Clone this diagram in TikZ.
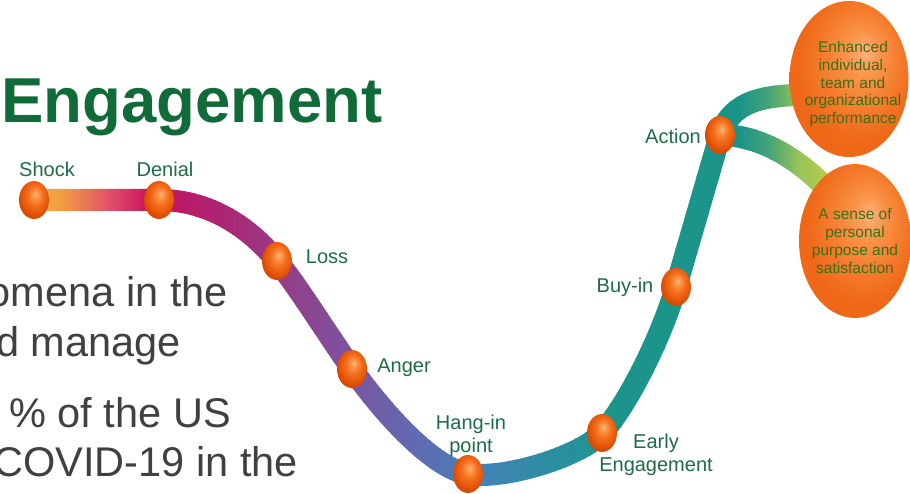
\documentclass[tikz,border=0pt]{standalone}
\usepackage{fontspec}
\setmainfont{Liberation Sans}
\usetikzlibrary{shapes.geometric,calc}

% text colours
\definecolor{titlegreen}{HTML}{116B38}
\definecolor{lblgreen}{HTML}{1D6B48}
\definecolor{orbtextgreen}{HTML}{3A7018}
\definecolor{bodygray}{HTML}{404040}

% small stage orbs
\definecolor{orbhi}{HTML}{FFC08A}
\definecolor{orblight}{HTML}{FF9A4C}
\definecolor{orbmid}{HTML}{F36E1E}
\definecolor{orbrim}{HTML}{E55608}
\definecolor{orbedge}{HTML}{D84C06}
\pgfdeclareradialshading{stageorb}{\pgfpoint{3bp}{8bp}}{%
  color(0bp)=(orbhi); color(4bp)=(orblight); color(13bp)=(orbmid);
  color(22bp)=(orbrim); color(25bp)=(orbedge); color(50bp)=(orbedge)}

% large outcome orbs
\definecolor{bighi}{HTML}{FFB27C}
\definecolor{biglight}{HTML}{FA944A}
\definecolor{bigmid}{HTML}{F47A2A}
\definecolor{bigedge}{HTML}{EE6818}
\pgfdeclareradialshading{outcomeorb}{\pgfpoint{7bp}{9bp}}{%
  color(0bp)=(bighi); color(7bp)=(biglight); color(17bp)=(bigmid);
  color(25bp)=(bigedge); color(50bp)=(bigedge)}

% colour stops along the tube (left to right)
\definecolor{tA}{HTML}{F5B33C}
\definecolor{tB}{HTML}{F2A040}
\definecolor{tC}{HTML}{E2506A}
\definecolor{tD}{HTML}{C8125C}
\definecolor{tE}{HTML}{B0226F}
\definecolor{tF}{HTML}{983A84}
\definecolor{tG}{HTML}{7A55A2}
\definecolor{tH}{HTML}{5F6CB2}
\definecolor{tI}{HTML}{4382B6}
\definecolor{tJ}{HTML}{2C8EA2}
\definecolor{tK}{HTML}{1C948C}
\definecolor{tL}{HTML}{1A9488}
\definecolor{tM}{HTML}{46A576}
\definecolor{tN}{HTML}{98C45A}
\definecolor{tO}{HTML}{C6D046}

\pgfdeclarelayer{tube}
\pgfsetlayers{tube,main}

% the whole tube: main curve plus the two branches out of Action
\newcommand\tubeline{%
  (shockball.center) -- (denialball.center)
  .. controls +(51,0) and +(-27,-33) .. (lossball.center)
  .. controls +(20,24) and +(-22,-31) .. (angerball.center)
  .. controls +(33,46) and +(-35,-6) .. (hanginball.center)
  .. controls +(35,6) and +(-22,24) .. (earlyball.center)
  .. controls +(28,-31) and +(-13,45) .. (buyinball.center)
  .. controls +(13,-45) and +(-10,35) .. (actionball.center)
  (actionball.center) .. controls +(10,-27) and +(-54,0) .. (enhin)
  (actionball.center) .. controls +(40,0) and +(-25,-25) .. (sensein)}

% paint the tube between x=#1 and x=#2, blending colour #3 into #4
\newcommand\tubeband[4]{%
  \foreach \k in {0,...,11}{%
    \pgfmathsetmacro\xa{#1+(#2-#1)*\k/12}%
    \pgfmathsetmacro\xb{#1+(#2-#1)*(\k+1)/12+0.8}%
    \pgfmathsetmacro\pc{100-100*(\k+0.5)/12}%
    \begin{scope}
      \clip (\xa,-20) rectangle (\xb,520);
      \draw[tube,color=#3!\pc!#4] \tubeline;
    \end{scope}
  }%
}

\begin{document}
\begin{tikzpicture}[x=1pt,y=-1pt,
  tube/.style={line width=22pt,line cap=round,line join=round},
  stageball/.style={ellipse,minimum width=30pt,minimum height=38pt,inner sep=0pt,
    shade,shading=stageorb},
  outcome/.style={ellipse,inner sep=0pt,shade,shading=outcomeorb},
  outcometext/.style={align=center,inner sep=0pt,text=orbtextgreen,
    font=\fontsize{15.5}{17.7}\selectfont},
  stagelabel/.style={align=center,inner sep=0pt,text=lblgreen,
    font=\fontsize{20}{22.5}\selectfont},
  bodytext/.style={anchor=base east,inner sep=0pt,text=bodygray,
    font=\fontsize{41.5}{48}\selectfont}]
\useasboundingbox (0,0) rectangle (910,494);
\clip (0,0) rectangle (910,494);

% title
\node[anchor=base west,inner sep=0pt,text=titlegreen,
  font=\fontsize{63.5}{70}\selectfont\bfseries] (title) at (1,123) {Engagement};

% body text running in from the left edge
\node[bodytext] (body1) at (228,306) {omena in the};
\node[bodytext] (body2) at (181,356) {d manage};
\node[bodytext] (body3) at (231,427) {\% of the US};
\node[bodytext] (body4) at (298,476) {COVID-19 in the};

% outcome orbs
\node[outcome,minimum width=119pt,minimum height=156pt] (enh) at (849,79) {};
\node[outcome,minimum width=112pt,minimum height=154pt] (sense) at (855,241) {};
\node[outcometext] (enhtext) at (853,84)
  {Enhanced\\individual,\\team and\\organizational\\performance};
\node[outcometext] (sensetext) at (855,241)
  {A sense of\\personal\\purpose and\\satisfaction};
\coordinate (enhin) at ($(enh.center)+(-45,16)$);
\coordinate (sensein) at ($(sense.center)+(-33,-57)$);

% stage orbs
\node[stageball] (shockball)   at (34,200)  {};
\node[stageball] (denialball)  at (159,200) {};
\node[stageball] (lossball)    at (277,261) {};
\node[stageball] (angerball)   at (352,369) {};
\node[stageball] (hanginball)  at (468,474) {};
\node[stageball] (earlyball)   at (602,433) {};
\node[stageball] (buyinball)   at (676,287) {};
\node[stageball] (actionball)  at (720,135) {};

% stage labels
\node[stagelabel,anchor=base] (shock)  at (47,177)  {Shock};
\node[stagelabel,anchor=base] (denial) at (165,177) {Denial};
\node[stagelabel,anchor=base] (loss)   at (327,264) {Loss};
\node[stagelabel,anchor=base] (anger)  at (404,372) {Anger};
\node[stagelabel] (hangin) at (471,436) {Hang-in\\point};
\node[stagelabel] (early)  at (656,455) {Early\\Engagement};
\node[stagelabel,anchor=base] (buyin)  at (625,293) {Buy-in};
\node[stagelabel,anchor=base] (action) at (673,144) {Action};

% the coloured tube behind the orbs
\begin{pgfonlayer}{tube}
  \tubeband{10}{60}{tA}{tB}
  \tubeband{60}{110}{tB}{tC}
  \tubeband{110}{150}{tC}{tD}
  \tubeband{150}{210}{tD}{tE}
  \tubeband{210}{277}{tE}{tF}
  \tubeband{277}{352}{tF}{tG}
  \tubeband{352}{420}{tG}{tH}
  \tubeband{420}{480}{tH}{tI}
  \tubeband{480}{550}{tI}{tJ}
  \tubeband{550}{610}{tJ}{tK}
  \tubeband{610}{740}{tK}{tL}
  \tubeband{740}{770}{tL}{tM}
  \tubeband{770}{800}{tM}{tN}
  \tubeband{800}{840}{tN}{tO}
\end{pgfonlayer}
\end{tikzpicture}
\end{document}
